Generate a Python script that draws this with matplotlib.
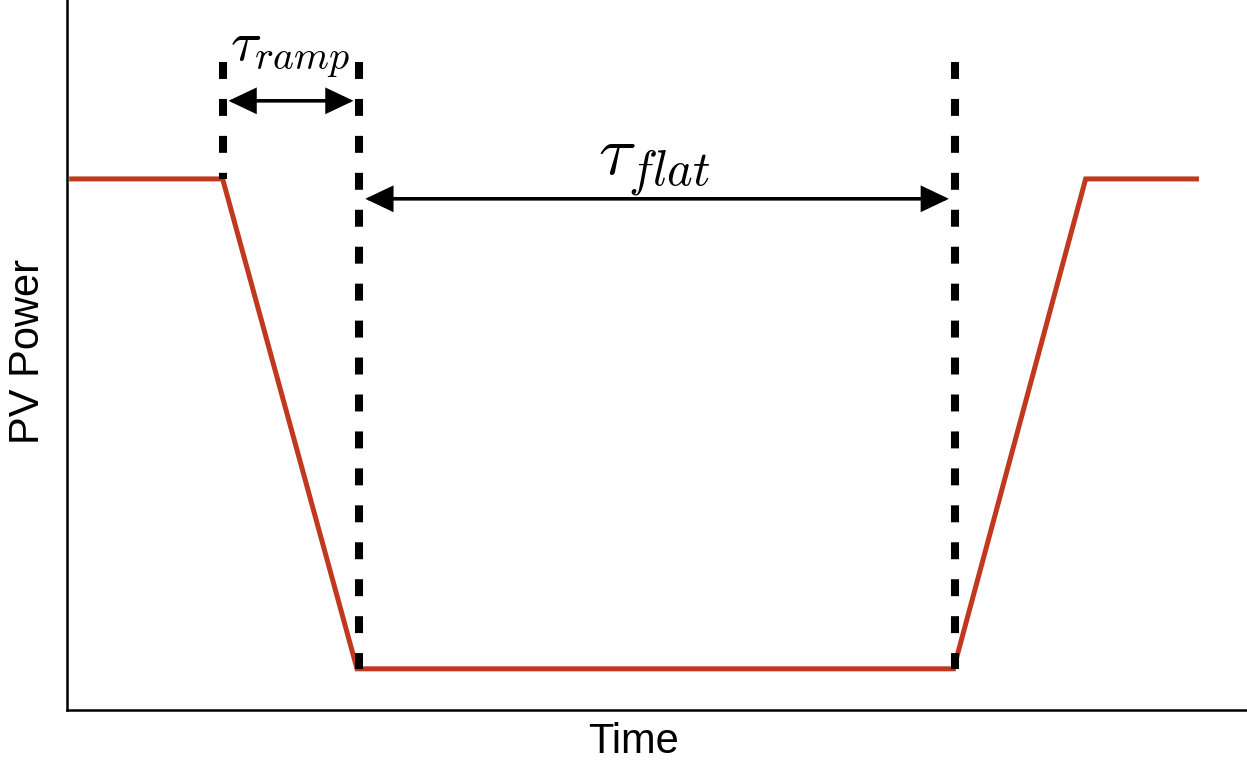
import matplotlib
matplotlib.use("Agg")
import matplotlib.pyplot as plt
from matplotlib.patches import FancyArrowPatch

plt.rcParams['mathtext.fontset'] = 'cm'
plt.rcParams['font.family'] = ['Liberation Sans', 'DejaVu Sans']
plt.rcParams['lines.scale_dashes'] = False

# data (arbitrary units)
time = [0.4, 13.2, 24.6, 75.2, 86.4, 95.8]
power = [0.748, 0.748, 0.058, 0.058, 0.748, 0.748]
marker_times = [13.2, 24.8, 75.3]
marker_bottoms = [0.748, 0.058, 0.058]
marker_top = 0.913
ramp_arrow_y = 0.858
flat_arrow_y = 0.72
ramp_label = r'$\tau_{ramp}$'
flat_label = r'$\tau_{flat}$'
xlabel = 'Time'
ylabel = 'PV Power'

fig = plt.figure(figsize=(12.47, 7.61), dpi=100)
ax = fig.add_axes([67 / 1247, 51 / 761, (1246 - 67) / 1247, 710 / 761])
ax.set_xlim(0, 100)
ax.set_ylim(0, 1)

ax.plot(time, power, color='#C0391F', lw=3.6, solid_joinstyle='miter', zorder=2)

for t, b in zip(marker_times, marker_bottoms):
    ax.plot([t, t], [marker_top, b], color='black', lw=5.8,
            linestyle=(0, (12.2, 14.4)), dash_capstyle='butt', zorder=3)

def darrow(x0, x1, y):
    a = FancyArrowPatch((x0, y), (x1, y), arrowstyle='<|-|>,head_length=0.8,head_width=0.38',
                        mutation_scale=20, lw=2.6, color='black', shrinkA=0, shrinkB=0,
                        joinstyle='miter', zorder=4)
    ax.add_patch(a)

darrow(marker_times[0] + 0.5, marker_times[1] - 0.5, ramp_arrow_y)
darrow(marker_times[1] + 0.5, marker_times[2] - 0.5, flat_arrow_y)

ax.text(18.9, 0.925, ramp_label, fontsize=41, ha='center', va='center')
ax.text(49.8, 0.764, flat_label, fontsize=50, ha='center', va='center')

for s in ['top', 'right']:
    ax.spines[s].set_visible(False)
for s in ['left', 'bottom']:
    ax.spines[s].set_linewidth(1.8)
ax.set_xticks([])
ax.set_yticks([])

ax.set_xlabel(xlabel, fontsize=30)
ax.set_ylabel(ylabel, fontsize=30)
ax.xaxis.set_label_coords((634 - 67) / 1179, -0.017, transform=ax.transAxes)
ax.yaxis.set_label_coords(-(67 - 28) / 1179, (710 - 351) / 710, transform=ax.transAxes)
ax.xaxis.label.set_va('top')
ax.yaxis.label.set_va('center')

fig.savefig('out.png', dpi=100)
